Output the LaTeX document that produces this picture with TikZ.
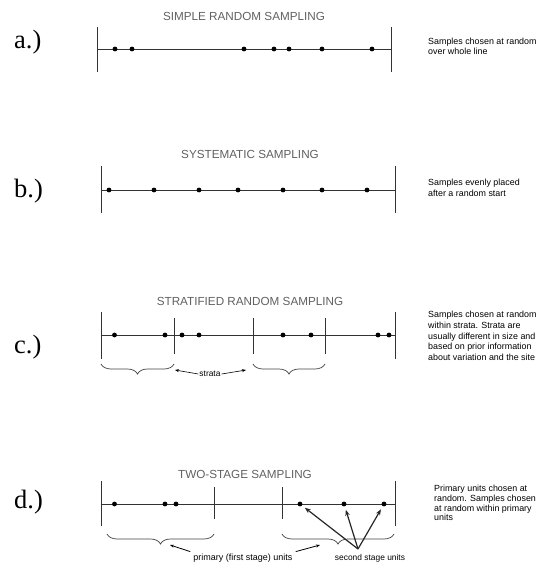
\documentclass[tikz,border=0pt]{standalone}
\usepackage{fontspec}
\setmainfont{Liberation Sans}
\newfontfamily\panelfont{Liberation Serif}
\usetikzlibrary{decorations.pathreplacing,arrows.meta}

\begin{document}
\begin{tikzpicture}[x=1pt,y=-1pt,
  axisline/.style={draw=black!80,line width=0.9pt},
  barline/.style={draw=black!80,line width=1pt},
  sample/.style={circle,fill=black,inner sep=0pt,minimum size=4.8pt},
  heading/.style={text=black!62,font=\fontsize{11.7}{13}\selectfont,inner sep=0pt},
  note/.style={anchor=west,align=left,font=\fontsize{8.9}{10.6}\selectfont,inner sep=0pt},
  tag/.style={font=\panelfont\fontsize{26.5}{28}\selectfont,inner sep=0pt,anchor=west},
  small/.style={font=\fontsize{8.4}{10}\selectfont,inner sep=1pt},
  bracedown/.style={decorate,decoration={brace,mirror,amplitude=10pt},draw=black!75,line width=0.7pt},
  thinarrow/.style={-{Stealth[length=4pt,width=3pt]},draw=black,line width=0.6pt},
  bigarrow/.style={-{Stealth[length=6pt,width=4.5pt]},draw=black!85,line width=1.2pt}
]
\useasboundingbox (0,0) rectangle (539,563);

% ---------- a.) simple random sampling ----------
\node[tag] (ta) at (14,42) {a.)};
\node[heading] (ha) at (244,16) {SIMPLE RANDOM SAMPLING};
\coordinate (a0) at (97,49);
\coordinate (a9) at (391,49);
\draw[axisline] (a0) -- (a9);
\draw[barline] (97,27) -- (97,72);
\draw[barline] (391,27) -- (391,72);
\foreach \x [count=\i] in {115,132,244,274,289,322,372}
  \node[sample] (a\i) at (\x,49) {};
\node[note] (na) at (428,46.5) {Samples chosen at random\\over whole line};

% ---------- b.) systematic sampling ----------
\node[tag] (tb) at (14,191) {b.)};
\node[heading] (hb) at (250,154) {SYSTEMATIC SAMPLING};
\coordinate (b0) at (101,190);
\coordinate (b9) at (395,190);
\draw[axisline] (b0) -- (b9);
\draw[barline] (101,166) -- (101,213);
\draw[barline] (395,166) -- (395,213);
\foreach \x [count=\i] in {109,154,199,238,283,322,367}
  \node[sample] (b\i) at (\x,190) {};
\node[note] (nb) at (428,188) {Samples evenly placed\\after a random start};

% ---------- c.) stratified random sampling ----------
\node[tag] (tc) at (14,347) {c.)};
\node[heading] (hc) at (250,301) {STRATIFIED RANDOM SAMPLING};
\coordinate (c0) at (101,335);
\coordinate (c9) at (395,335);
\draw[axisline] (c0) -- (c9);
\draw[barline] (101,312) -- (101,359);
\draw[barline] (395,312) -- (395,359);
\foreach \x in {174,253,325}
  \draw[barline] (\x,318) -- (\x,354);
\foreach \x [count=\i] in {114.5,165,182,199,283,311,378,389}
  \node[sample] (c\i) at (\x,335) {};
\draw[bracedown] (101,364) -- (174,364);
\draw[bracedown] (253,364) -- (325,364);
\node[small] (strata) at (210,374) {strata};
\coordinate (sl) at (175,370);
\coordinate (sr) at (246,370);
\draw[thinarrow] (strata.west) -- (sl);
\draw[thinarrow] (strata.east) -- (sr);
\node[note] (nc) at (428,336) {Samples chosen at random\\within strata. Strata are\\usually different in size and\\based on prior information\\about variation and the site};

% ---------- d.) two-stage sampling ----------
\node[tag] (td) at (14,502) {d.)};
\node[heading] (hd) at (245,474) {TWO-STAGE SAMPLING};
\coordinate (d0) at (101,504);
\coordinate (d9) at (395,504);
\draw[axisline] (d0) -- (d9);
\draw[barline] (101,481) -- (101,526);
\draw[barline] (395,481) -- (395,526);
\foreach \x in {214,282}
  \draw[barline] (\x,487) -- (\x,519);
\foreach \x [count=\i] in {114.5,165,176,300,344,384}
  \node[sample] (d\i) at (\x,504) {};
\draw[bracedown] (107,534) -- (214,534);
\draw[bracedown] (282,534) -- (394,534);
\node[small,font=\fontsize{9}{10}\selectfont] (prim) at (243,558) {primary (first stage) units};
\coordinate (pl) at (170,545);
\coordinate (pr) at (320,545);
\draw[thinarrow,line width=0.8pt] (prim.north west) ++(-2,-1) coordinate (plst) -- (pl);
\draw[thinarrow,line width=0.8pt] (prim.north east) ++(2,-1) coordinate (prst) -- (pr);
\node[small] (sec) at (370,558) {second stage units};
\coordinate (ss) at (358,549);
\foreach \i in {4,5,6}
  \draw[bigarrow,shorten >=3.5pt] (ss) -- (d\i);
\node[note,font=\fontsize{8.9}{9.8}\selectfont] (nd) at (434,503) {Primary units chosen at\\random. Samples chosen\\at random within primary\\units};
\end{tikzpicture}
\end{document}
